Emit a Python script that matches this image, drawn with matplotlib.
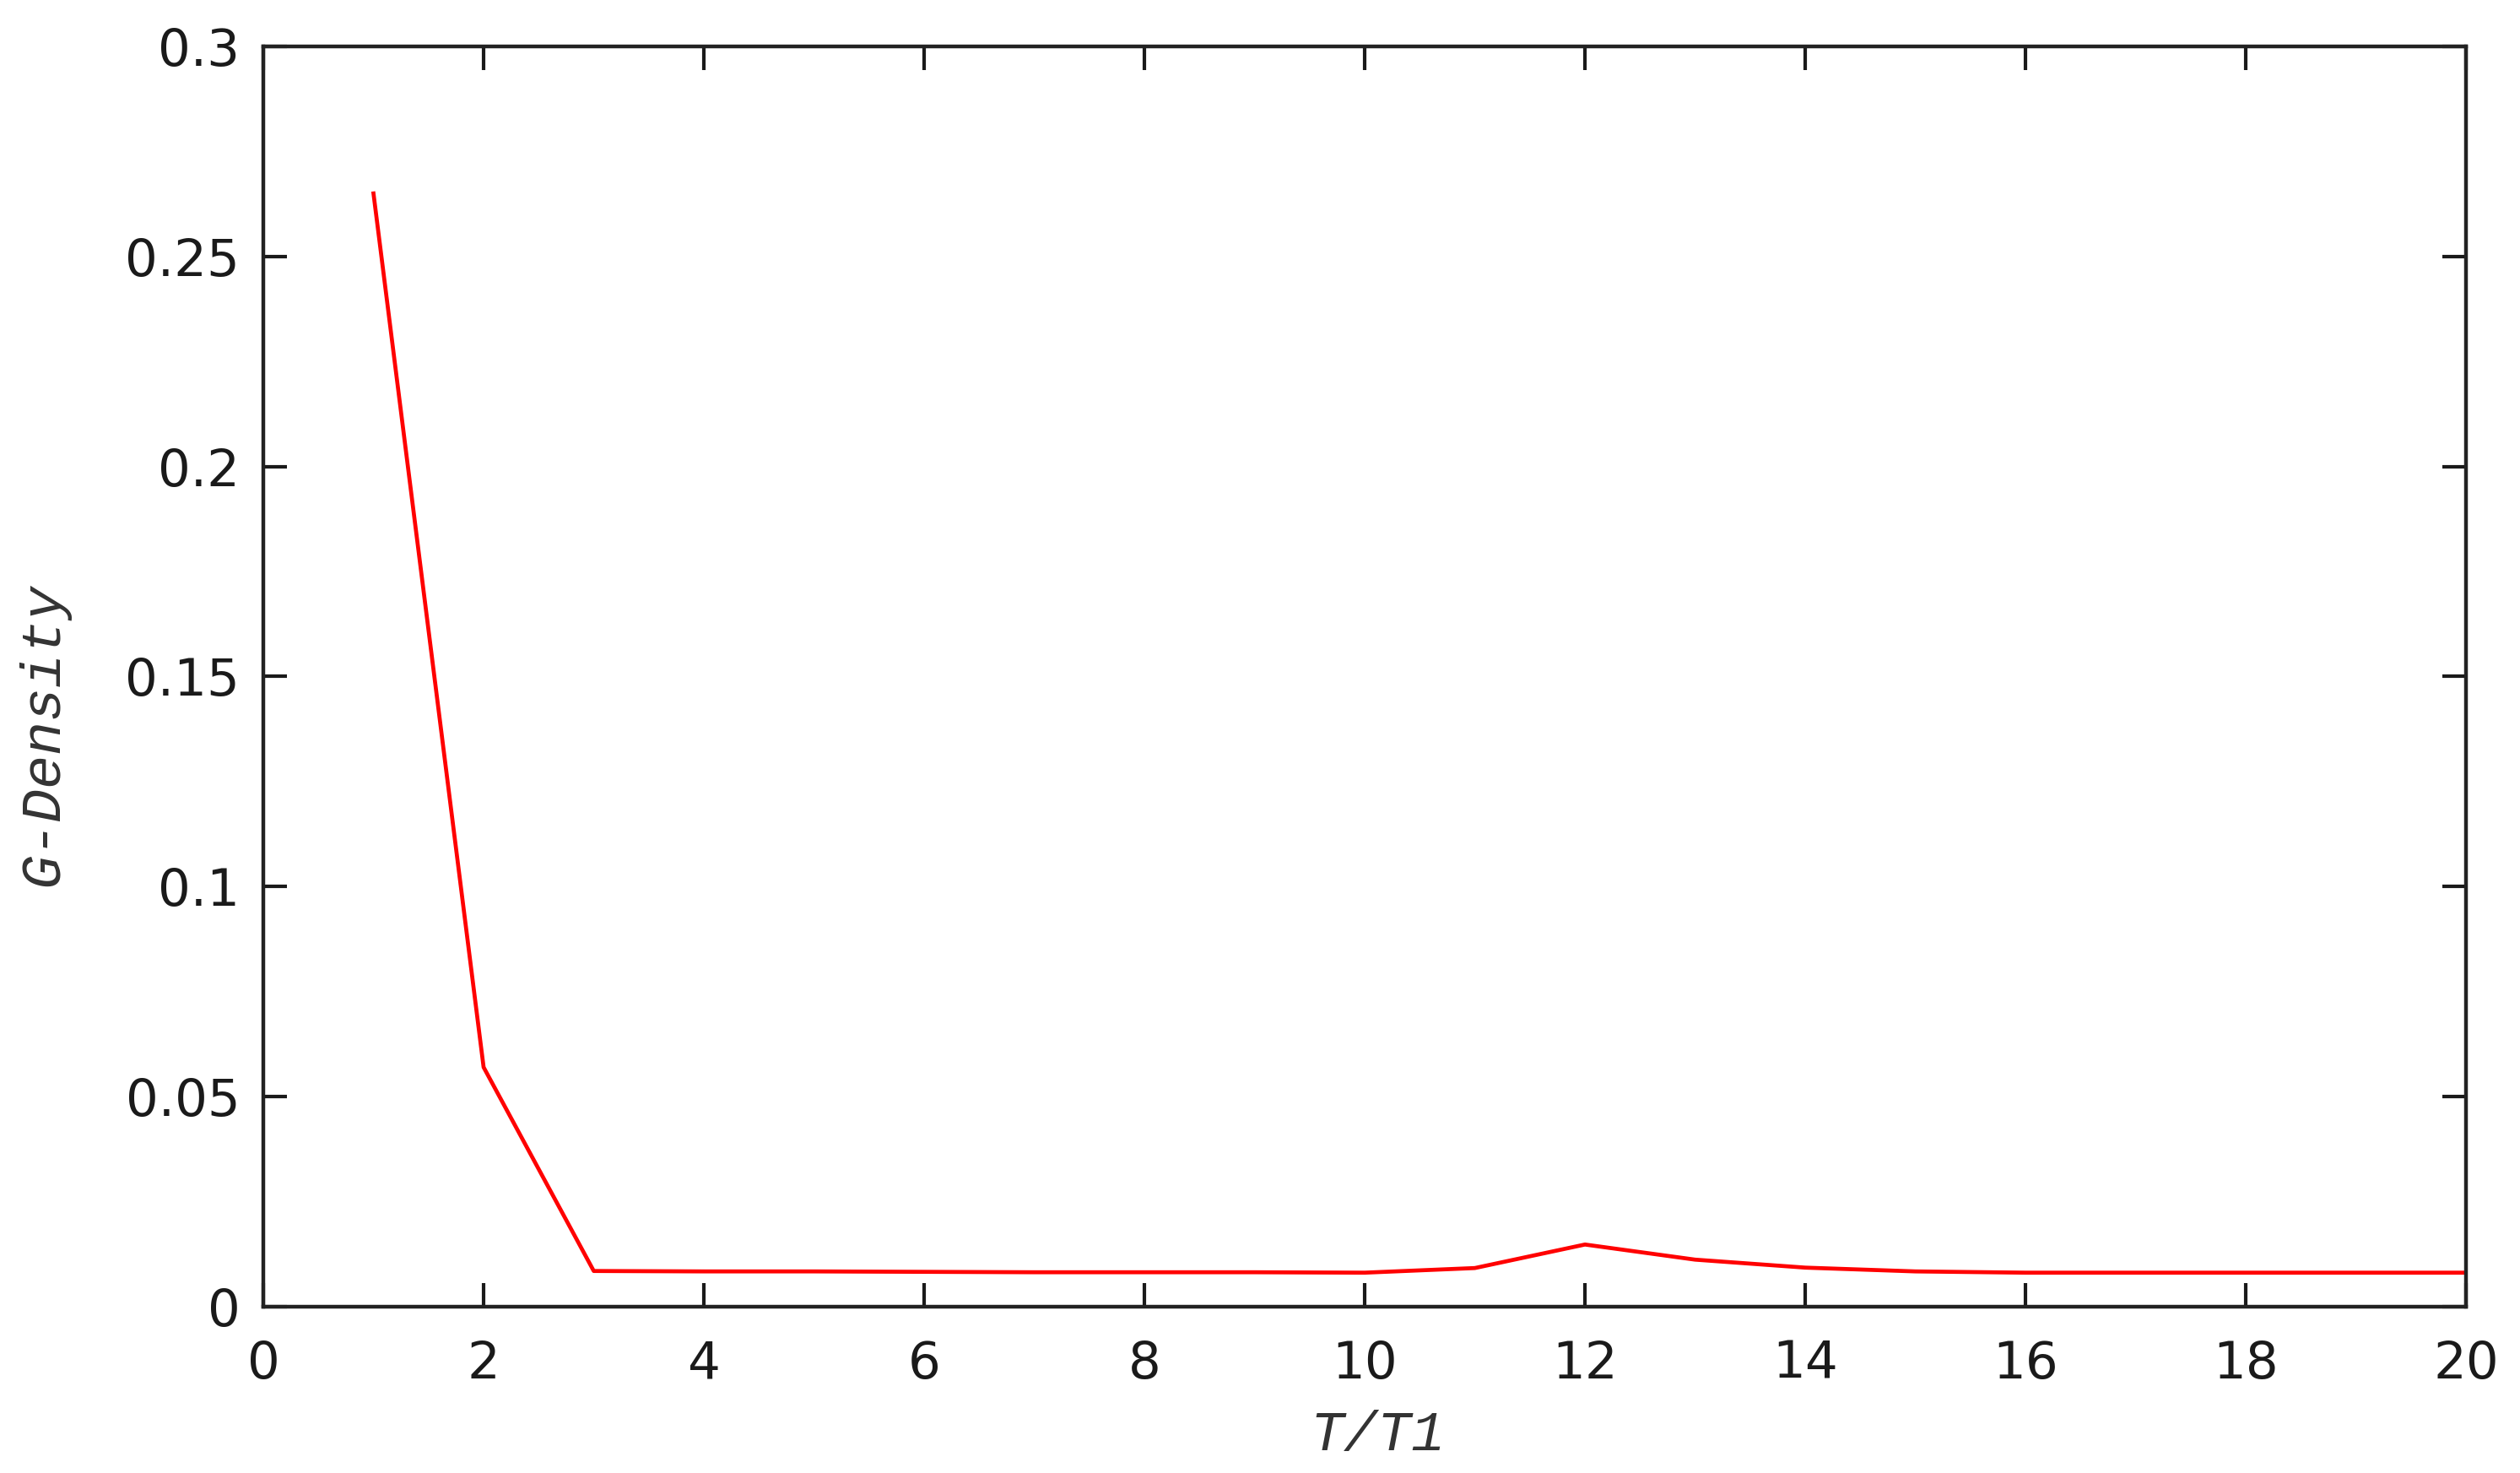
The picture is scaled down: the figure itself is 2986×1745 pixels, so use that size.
import matplotlib.pyplot as plt

# T/T1 ratio and the G-density
t_ratio = list(range(1, 21))
g_density = [0.265, 0.057, 0.0085, 0.0084, 0.0084, 0.0083, 0.0082, 0.0082, 0.0082, 0.0081,
             0.0092, 0.0148, 0.0112, 0.0093, 0.0084, 0.0081, 0.0081, 0.0081, 0.0081, 0.0081]
x_ticks = list(range(0, 21, 2))
y_ticks = [0, 0.05, 0.1, 0.15, 0.2, 0.25, 0.3]
y_tick_labels = ["0", "0.05", "0.1", "0.15", "0.2", "0.25", "0.3"]

fig = plt.figure(figsize=(29.86, 17.45), dpi=100)
ax = fig.add_axes([0.1045, 0.1129, 0.8741, 0.8556])

ax.plot(t_ratio, g_density, color="#ff0000", linewidth=3.4)

ax.set_xlim(0, 20)
ax.set_ylim(0, 0.3)
ax.set_xticks(x_ticks)
ax.set_yticks(y_ticks)
ax.set_yticklabels(y_tick_labels)

ax.tick_params(direction="in", length=20, width=3, colors="#1a1a1a",
               labelsize=44, top=True, right=True)
ax.tick_params(axis="x", pad=28)
ax.tick_params(axis="y", pad=20)
for spine in ax.spines.values():
    spine.set_linewidth(3.2)
    spine.set_color("#222222")

label_font = dict(family="Liberation Mono", style="italic", size=48, color="#333333")
ax.set_xlabel("T/T1", **label_font)
ax.set_ylabel("G-Density", **label_font)
ax.xaxis.set_label_coords(0.506, -0.082)
ax.yaxis.set_label_coords(-0.088, 0.454)

fig.savefig("out.png", dpi=100)
